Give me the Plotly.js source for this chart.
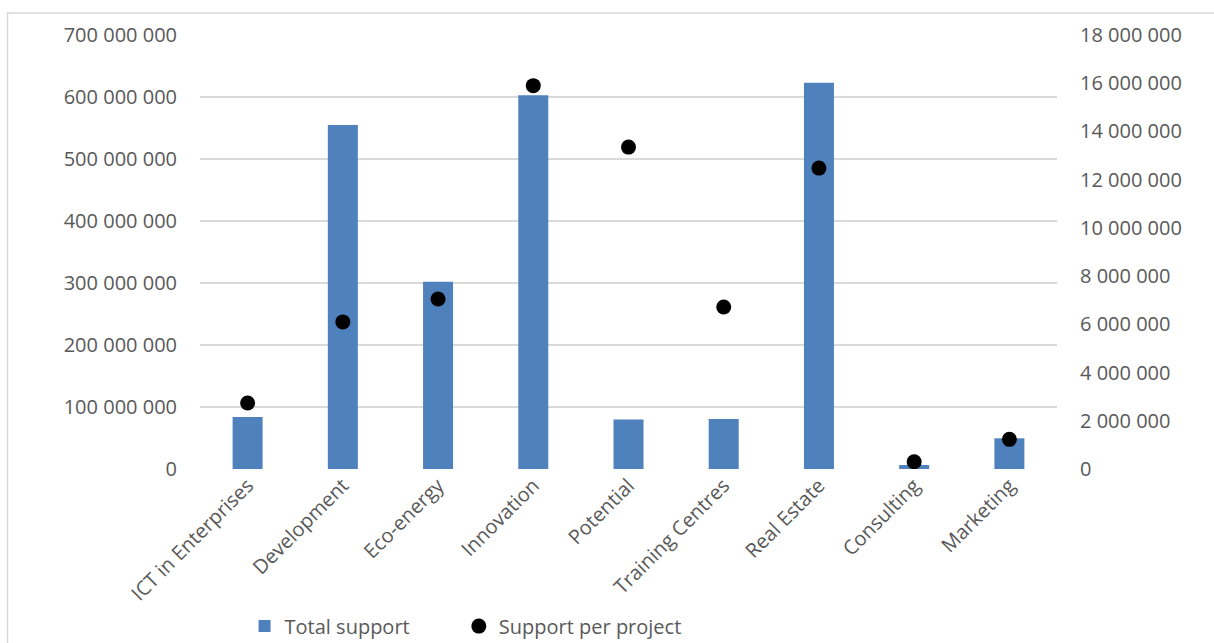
<!DOCTYPE html>
<html>
<head>
<meta charset="utf-8">
<script src="https://cdn.plot.ly/plotly-3.0.1.min.js"></script>
<style>
html,body{margin:0;padding:0;background:#fff;}
#chart{width:1214px;height:643px;}
</style>
</head>
<body>
<div id="chart"></div>
<script>
const categories = ["ICT in Enterprises","Development","Eco-energy","Innovation","Potential","Training Centres","Real Estate","Consulting","Marketing"];
const totalSupport = [84000000, 555000000, 302000000, 603000000, 80000000, 80500000, 623000000, 6500000, 49500000];
const supportPerProject = [2740000, 6100000, 7050000, 15900000, 13350000, 6720000, 12480000, 300000, 1230000];

const font = {family: "'Open Sans', 'Liberation Sans', sans-serif", size: 20, color: "#595959"};

const traces = [
  {type: "bar", name: "Total support", x: categories, y: totalSupport,
   marker: {color: "#4f81bd"}, yaxis: "y", legend: "legend"},
  {type: "scatter", mode: "markers", name: "Support per project", x: categories, y: supportPerProject,
   marker: {color: "#000000", size: 15}, yaxis: "y2", legend: "legend2"}
];

const legendBase = {orientation: "h", yanchor: "middle", xanchor: "left", font: font, itemwidth: 30,
                    bgcolor: "rgba(0,0,0,0)"};

const layout = {
  width: 1214, height: 643,
  margin: {l: 200, r: 157, t: 35, b: 174, autoexpand: false},
  paper_bgcolor: "#ffffff", plot_bgcolor: "#ffffff",
  separators: ". ",
  font: font,
  bargap: 0.685,
  showlegend: true,
  legend: Object.assign({}, legendBase, {x: 0.052, y: -0.362}),
  legend2: Object.assign({}, legendBase, {x: 0.302, y: -0.362}),
  xaxis: {type: "category", range: [-0.5, categories.length - 0.5], tickangle: -45, showgrid: false,
          zeroline: false, automargin: false, showline: false, ticks: "", tickfont: font},
  yaxis: {range: [0, 700000000], dtick: 100000000, tickformat: ",d", showgrid: true, automargin: false,
          gridcolor: "#d9d9d9", gridwidth: 1.5, zeroline: false, showline: false,
          ticks: "", tickfont: font, ticklabelstandoff: 22},
  yaxis2: {range: [0, 18000000], dtick: 2000000, tickformat: ",d", overlaying: "y", side: "right",
           showgrid: false, zeroline: false, showline: false, ticks: "", tickfont: font, automargin: false,
           ticklabelstandoff: 22},
  shapes: [{type: "rect", xref: "paper", yref: "paper", x0: -0.2246, x1: 1.185, y0: -0.45, y1: 1.0507,
            line: {color: "#d9d9d9", width: 1.5}, fillcolor: "rgba(0,0,0,0)", layer: "below"}]
};

Plotly.newPlot("chart", traces, layout, {displayModeBar: false, staticPlot: true});
</script>
</body>
</html>
